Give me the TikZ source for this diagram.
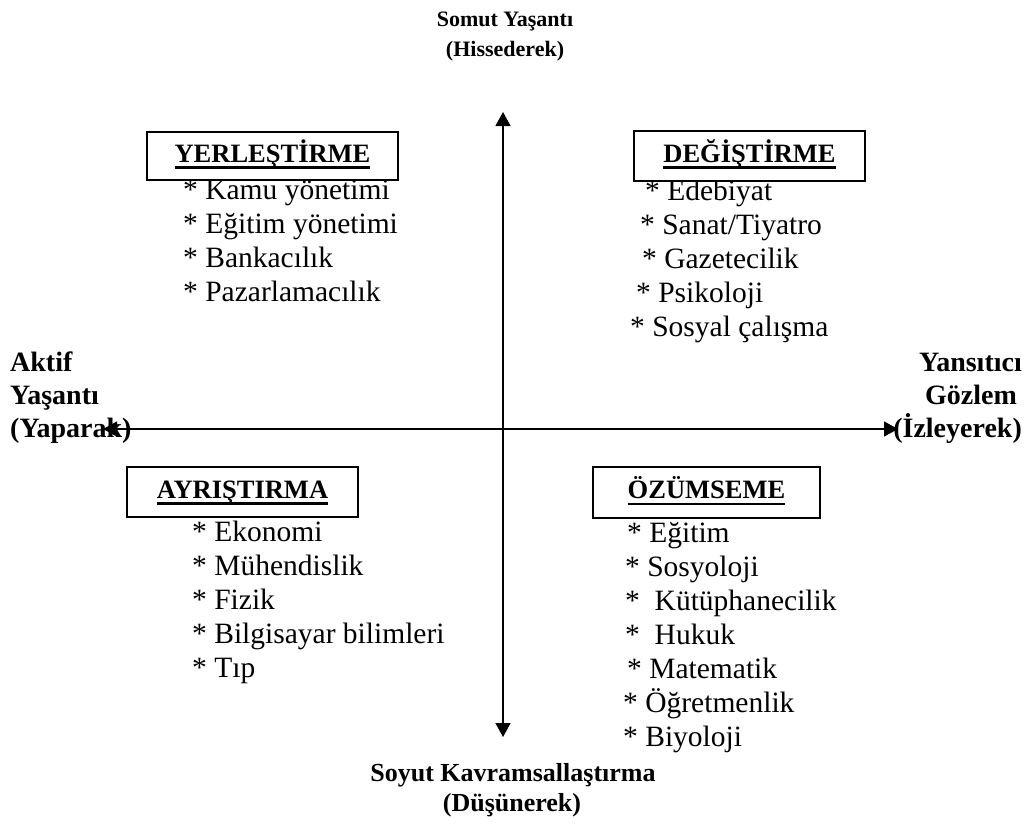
\documentclass[tikz,border=0pt]{standalone}
\usepackage{fontspec}
\setmainfont{Liberation Serif}
\usetikzlibrary{arrows.meta}

% underlined heading with the rule just below the baseline
\newcommand\ulhead[1]{\sbox0{#1}\rlap{\rule[-0.25em]{\wd0}{0.09em}}\usebox0}

\tikzset{
  axis/.style={line width=1.3pt,
    {Triangle[width=15pt,length=14pt]}-{Triangle[width=15pt,length=14pt]}},
  item/.style={anchor=base west, inner sep=0pt,
    font=\fontsize{29.5}{34}\selectfont},
  toplabel/.style={inner sep=0pt,
    font=\fontsize{22}{30}\selectfont\bfseries},
  axlabel/.style={inner sep=0pt,
    font=\fontsize{26}{30}\selectfont\bfseries},
  sidelabel/.style={inner sep=0pt,
    font=\fontsize{28}{32}\selectfont\bfseries},
  qbox/.style={draw, line width=1.6pt, fill=white, inner sep=0pt,
    text height=18pt, text depth=6pt,
    font=\fontsize{26.5}{30}\selectfont\bfseries},
}

\begin{document}
\begin{tikzpicture}[x=1pt,y=-1pt]
\useasboundingbox (0,0) rectangle (1032,825);

% axes
\coordinate (top) at (503,112);
\coordinate (bot) at (503,737);
\coordinate (lft) at (103,429);
\coordinate (rgt) at (898,429);
\draw[axis] (bot) -- (top);
\draw[axis] (lft) -- (rgt);

% axis labels
\node[toplabel, anchor=base] (somut) at (505,26) {Somut Yaşantı};
\node[toplabel, anchor=base] (hiss) at (505,56) {(Hissederek)};
\node[axlabel, anchor=base] (soyut) at (513,781) {Soyut Kavramsallaştırma};
\node[axlabel, anchor=base] (dus) at (512,811) {(Düşünerek)};

\node[sidelabel, anchor=base west] (aktif) at (10,371) {Aktif};
\node[sidelabel, anchor=base west] (yasanti) at (10,404) {Yaşantı};
\node[sidelabel, anchor=base west] (yaparak) at (10,437) {(Yaparak)};

\node[sidelabel, anchor=base east] (yansit) at (1022,371) {Yansıtıcı};
\node[sidelabel, anchor=base east] (gozlem) at (1017,404) {Gözlem};
\node[sidelabel, anchor=base east] (izley) at (1022,437) {(İzleyerek)};

% upper left list
\node[item] (y1) at (183,199) {* Kamu yönetimi};
\node[item] (y2) at (183,233) {* Eğitim yönetimi};
\node[item] (y3) at (183,267) {* Bankacılık};
\node[item] (y4) at (183,301) {* Pazarlamacılık};

% upper right list
\node[item] (d1) at (645,200) {* Edebiyat};
\node[item] (d2) at (640,234) {* Sanat/Tiyatro};
\node[item] (d3) at (642,268) {* Gazetecilik};
\node[item] (d4) at (636,302) {* Psikoloji};
\node[item] (d5) at (630,336) {* Sosyal çalışma};

% lower left list
\node[item] (a1) at (192,541) {* Ekonomi};
\node[item] (a2) at (192,575) {* Mühendislik};
\node[item] (a3) at (192,609) {* Fizik};
\node[item] (a4) at (192,643) {* Bilgisayar bilimleri};
\node[item] (a5) at (192,677) {* Tıp};

% lower right list
\node[item] (o1) at (627,542) {* Eğitim};
\node[item] (o2) at (625,576) {* Sosyoloji};
\node[item] (o3) at (625,610) {*~~Kütüphanecilik};
\node[item] (o4) at (625,644) {*~~Hukuk};
\node[item] (o5) at (627,678) {* Matematik};
\node[item] (o6) at (623,712) {* Öğretmenlik};
\node[item] (o7) at (623,746) {* Biyoloji};

% quadrant headings
\node[qbox, minimum width=251pt, minimum height=48pt] (yer) at (272.5,156) {\ulhead{YERLEŞTİRME}};
\node[qbox, minimum width=231pt, minimum height=50pt] (deg) at (749.5,156) {\ulhead{DEĞİŞTİRME}};
\node[qbox, minimum width=231pt, minimum height=50pt] (ayr) at (242.5,492) {\ulhead{AYRIŞTIRMA}};
\node[qbox, minimum width=227pt, minimum height=51pt] (ozu) at (706.5,492.5) {\ulhead{ÖZÜMSEME}};
\end{tikzpicture}
\end{document}
